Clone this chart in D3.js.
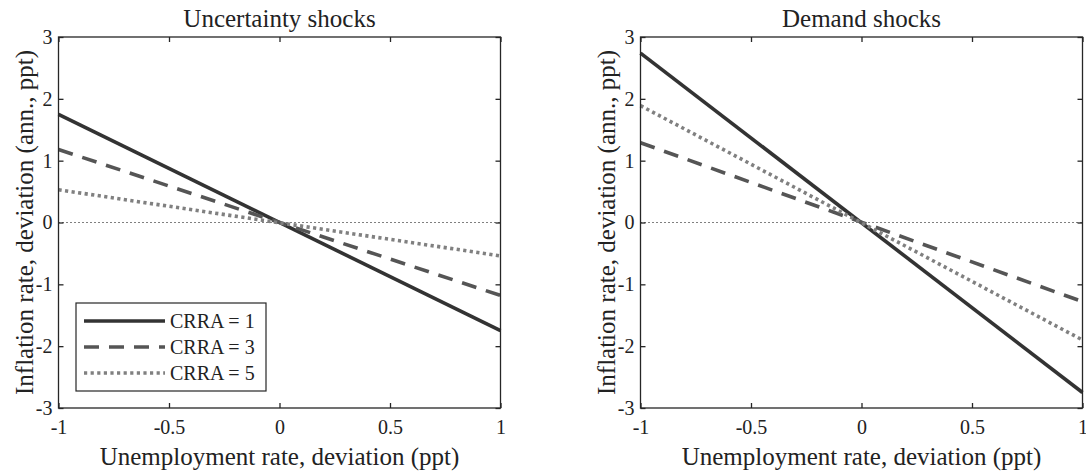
<!DOCTYPE html>
<html><head><meta charset="utf-8">
<script src="https://cdn.jsdelivr.net/npm/d3@7"></script>
<style>body{margin:0;background:#fff}svg{display:block}text{font-family:"Liberation Serif","Times New Roman",serif;fill:#222}</style>
</head><body><svg id="c" width="1086" height="476"></svg>
<script>
const xVals = [-1, 1];
const xTicks = [-1, -0.5, 0, 0.5, 1];
const yTicks = [-3, -2, -1, 0, 1, 2, 3];
const seriesNames = ["CRRA = 1", "CRRA = 3", "CRRA = 5"];
const uncertaintyCRRA1 = [1.75, -1.75];
const uncertaintyCRRA3 = [1.18, -1.18];
const uncertaintyCRRA5 = [0.53, -0.54];
const demandCRRA1 = [2.74, -2.75];
const demandCRRA3 = [1.29, -1.28];
const demandCRRA5 = [1.89, -1.90];
const panelTitles = ["Uncertainty shocks", "Demand shocks"];
const xLabel = "Unemployment rate, deviation (ppt)";
const yLabel = "Inflation rate, deviation (ann., ppt)";

const styles = [
  {color:"#333333", dash:null, w:3.6},
  {color:"#555555", dash:"15,10", w:3.6},
  {color:"#808080", dash:"3.2,3.4", w:3.6}
];
const panels = [
  {title:panelTitles[0], series:[uncertaintyCRRA1,uncertaintyCRRA3,uncertaintyCRRA5], x0:58.5, x1:500.5, legend:true},
  {title:panelTitles[1], series:[demandCRRA1,demandCRRA3,demandCRRA5], x0:640.5, x1:1082.5, legend:false}
];
const plotTop = 37, plotBottom = 408;
const svg = d3.select("#c");
const serif = '"Liberation Serif","Times New Roman",serif';

panels.forEach(p => {
  const x = d3.scaleLinear().domain([-1,1]).range([p.x0,p.x1]);
  const y = d3.scaleLinear().domain([-3,3]).range([plotBottom,plotTop]);
  const g = svg.append("g");
  g.append("line").attr("x1",x(-1)).attr("x2",x(1)).attr("y1",y(0)).attr("y2",y(0))
   .attr("stroke","#000").attr("stroke-width",1).attr("stroke-dasharray","1,3");
  const line = d3.line().x((d,i)=>x(xVals[i])).y(d=>y(d));
  p.series.forEach((s,i)=>{
    g.append("path").datum(s).attr("d",line).attr("fill","none")
     .attr("stroke",styles[i].color).attr("stroke-width",styles[i].w)
     .attr("stroke-dasharray",styles[i].dash);
  });
  const fmt = d => String(d);
  const ax = g.append("g").attr("transform",`translate(0,${plotBottom})`)
    .call(d3.axisBottom(x).tickValues(xTicks).tickSize(-5).tickPadding(12).tickFormat(fmt));
  const axT = g.append("g").attr("transform",`translate(0,${plotTop})`)
    .call(d3.axisTop(x).tickValues(xTicks).tickSize(-5).tickFormat(""));
  const ay = g.append("g").attr("transform",`translate(${p.x0},0)`)
    .call(d3.axisLeft(y).tickValues(yTicks).tickSize(-5).tickPadding(6).tickFormat(fmt));
  const ayR = g.append("g").attr("transform",`translate(${p.x1},0)`)
    .call(d3.axisRight(y).tickValues(yTicks).tickSize(-5).tickFormat(""));
  [ax,axT,ay,ayR].forEach(a=>{
    a.attr("font-family", serif);
    a.select(".domain").remove();
    a.selectAll(".tick line").attr("stroke","#262626").attr("stroke-width",1.3);
    a.selectAll("text").style("font-size","20px").style("font-family",serif).attr("fill","#222");
  });
  g.append("rect").attr("x",p.x0).attr("y",plotTop).attr("width",p.x1-p.x0).attr("height",plotBottom-plotTop)
   .attr("fill","none").attr("stroke","#262626").attr("stroke-width",1.3);
  g.append("text").attr("x",(p.x0+p.x1)/2).attr("y",27).attr("text-anchor","middle")
   .style("font-size","25px").style("font-family",serif).text(p.title);
  g.append("text").attr("x",(p.x0+p.x1)/2).attr("y",465).attr("text-anchor","middle")
   .style("font-size","25px").style("font-family",serif).text(xLabel);
  g.append("text").attr("transform",`translate(${p.x0-25.5},${(plotTop+plotBottom)/2}) rotate(-90)`)
   .attr("text-anchor","middle").style("font-size","25px").style("font-family",serif).text(yLabel);
  if(p.legend){
    const lg = g.append("g");
    lg.append("rect").attr("x",76).attr("y",303).attr("width",190).attr("height",88)
      .attr("fill","#fff").attr("stroke","#262626").attr("stroke-width",1.2);
    seriesNames.forEach((n,i)=>{
      const yy = 321 + i*26;
      lg.append("line").attr("x1",84).attr("x2",165).attr("y1",yy).attr("y2",yy)
        .attr("stroke",styles[i].color).attr("stroke-width",styles[i].w).attr("stroke-dasharray",styles[i].dash);
      lg.append("text").attr("x",170).attr("y",yy).attr("dy","0.35em").style("font-size","20px").style("font-family",serif).text(n);
    });
  }
});
</script></body></html>
